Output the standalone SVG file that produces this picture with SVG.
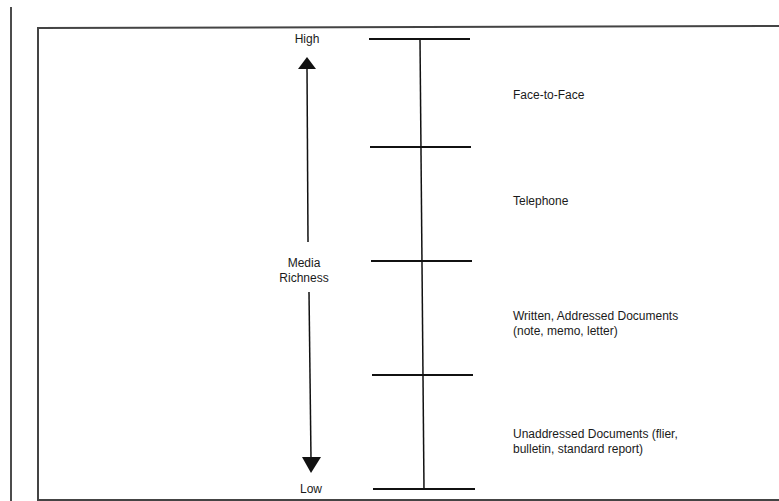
<svg xmlns="http://www.w3.org/2000/svg" width="779" height="501" viewBox="0 0 779 501">
<style>
.t{font-family:"Liberation Sans",Arial,sans-serif;font-size:12px;fill:#1a1a1a}
.c{text-anchor:middle}
.frame{stroke:#444;stroke-width:2;fill:none}
.ln{stroke:#111;stroke-width:2;fill:none}
.ln1{stroke:#111;stroke-width:1.5;fill:none}
</style>
<rect width="779" height="501" fill="#fff"/>
<g id="frame">
<line class="ln1" x1="11" y1="7" x2="11" y2="501"/>
<polyline class="frame" points="38,501 38,28 779,26"/>
<line class="frame" x1="38" y1="500" x2="779" y2="500"/>
</g>
<g id="connectors">
<line class="ln1" x1="307" y1="67" x2="308" y2="242"/>
<polygon points="307,57 298,69 316,69" fill="#111"/>
<line class="ln1" x1="309" y1="292" x2="311" y2="459"/>
<polygon points="302,457 321,457 311,473" fill="#111"/>
<line class="ln1" x1="420" y1="39" x2="424" y2="489"/>
</g>
<g id="ticks">
<line class="ln" x1="369" y1="39" x2="470" y2="39"/>
<line class="ln" x1="370" y1="147" x2="471" y2="147"/>
<line class="ln" x1="371" y1="261" x2="472" y2="261"/>
<line class="ln" x1="372" y1="375" x2="473" y2="375"/>
<line class="ln" x1="373" y1="489" x2="475" y2="489"/>
</g>
<g id="axis-labels">
<text class="t c" x="307" y="43">High</text>
<text class="t c" x="304" y="267">Media</text>
<text class="t c" x="304" y="282">Richness</text>
<text class="t c" x="311" y="493">Low</text>
</g>
<g id="face-to-face"><text class="t" x="513" y="99">Face-to-Face</text></g>
<g id="telephone"><text class="t" x="513" y="205">Telephone</text></g>
<g id="written"><text class="t" x="513" y="320">Written, Addressed Documents</text><text class="t" x="513" y="335">(note, memo, letter)</text></g>
<g id="unaddressed"><text class="t" x="513" y="438">Unaddressed Documents (flier,</text><text class="t" x="513" y="453">bulletin, standard report)</text></g>
</svg>
